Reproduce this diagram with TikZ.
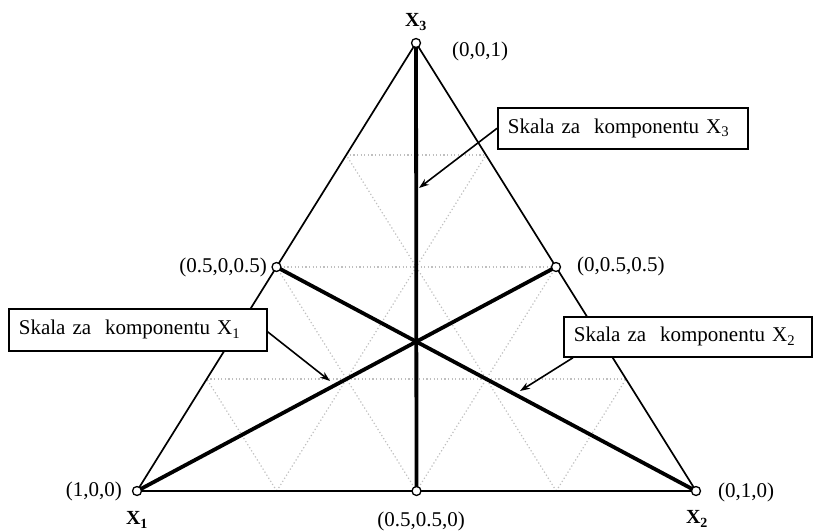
\documentclass[tikz,border=0pt]{standalone}
\usepackage{fontspec}
\setmainfont{Liberation Serif}
\usetikzlibrary{arrows.meta}
\begin{document}
\begin{tikzpicture}[x=1pt,y=-1pt,
  edge/.style={line width=1.7pt},
  heavy/.style={line width=3.8pt},
  gridline/.style={gray!50, line width=1.2pt, dash pattern=on 1.2pt off 2.4pt},
  vtx/.style={circle, draw, fill=white, line width=1.3pt, minimum size=9pt, inner sep=0pt},
  lbl/.style={font=\fontsize{21}{24}\selectfont, inner sep=0pt},
  vlbl/.style={font=\fontsize{20}{24}\selectfont\bfseries, inner sep=0pt},
  scalebox/.style={draw, fill=white, line width=1.7pt, font=\fontsize{21}{24}\selectfont,
    anchor=north west, inner xsep=10pt, inner ysep=0pt, align=left},
  pointer/.style={line width=1.6pt, -{Stealth[length=10pt,width=7pt]}}
]
\useasboundingbox (0,0) rectangle (814,532);

\coordinate (X1) at (137,491);
\coordinate (X2) at (696,491);
\coordinate (X3) at (416,43);

% grid
\foreach \t in {0.25,0.5,0.75}{
  \pgfmathsetmacro\s{1-\t}
  \draw[gridline] (barycentric cs:X1=\s,X3=\t) -- (barycentric cs:X2=\s,X3=\t);
  \draw[gridline] (barycentric cs:X1=\t,X2=\s) -- (barycentric cs:X1=\t,X3=\s);
  \draw[gridline] (barycentric cs:X2=\t,X1=\s) -- (barycentric cs:X2=\t,X3=\s);
}

\coordinate (M13) at (barycentric cs:X1=0.5,X3=0.5);
\coordinate (M23) at (barycentric cs:X2=0.5,X3=0.5);
\coordinate (M12) at (barycentric cs:X1=0.5,X2=0.5);

% triangle
\draw[edge, line join=round] (X1) -- (X2) -- (X3) -- cycle;

% heavy scales
\draw[heavy] (X3) -- (M12);
\draw[heavy] (M13) -- (X2);
\draw[heavy] (M23) -- (X1);

% vertex circles
\node[vtx] (c1) at (X1) {};
\node[vtx] (c2) at (X2) {};
\node[vtx] (c3) at (X3) {};
\node[vtx] (c13) at (M13) {};
\node[vtx] (c23) at (M23) {};
\node[vtx] (c12) at (M12) {};

% labels
\node[vlbl] (lx3) at (416,22) {X\textsubscript{3}};
\node[vlbl] (lx1) at (137,520) {X\textsubscript{1}};
\node[vlbl] (lx2) at (697,519) {X\textsubscript{2}};
\node[lbl] (p001) at (480,51) {(0,0,1)};
\node[lbl, anchor=east] (p505) at (267,267) {(0.5,0,0.5)};
\node[lbl, anchor=west] (p055) at (577,266) {(0,0.5,0.5)};
\node[lbl, anchor=east] (p100) at (122,491) {(1,0,0)};
\node[lbl, anchor=west] (p010) at (718,492) {(0,1,0)};
\node[lbl] (p550) at (421,521) {(0.5,0.5,0)};

% boxes
\node[scalebox, minimum height=42pt, text width=238pt] (b1) at (8,308) {Skala za\ \ komponentu X\textsubscript{1}};
\node[scalebox, minimum height=40pt, text width=228pt] (b2) at (563,316) {Skala za\ \ komponentu X\textsubscript{2}};
\node[scalebox, minimum height=41pt, text width=230pt] (b3) at (497,107) {Skala za\ \ komponentu X\textsubscript{3}};

% arrows
\coordinate (a1) at (330,381);
\coordinate (a2) at (520,391);
\coordinate (a3) at (419,188);
\draw[pointer] ([yshift=-2pt]b1.east) -- (a1);
\draw[pointer] ([xshift=10pt]b2.south west) -- (a2);
\draw[pointer] (b3.west) -- (a3);
\end{tikzpicture}
\end{document}
